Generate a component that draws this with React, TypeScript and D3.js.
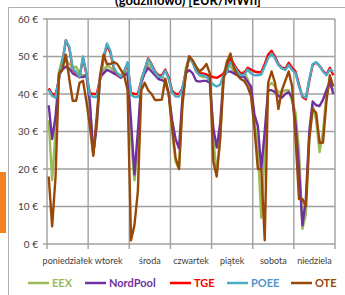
import React from 'react'
import * as d3 from 'd3'

// 7 days, 2-hour steps (12 points per day)
const days = ['poniedziałek', 'wtorek', 'środa', 'czwartek', 'piątek', 'sobota', 'niedziela']
const yTicks = [0, 10, 20, 30, 40, 50, 60]

const eex = [
  33, 17, 30, 46, 49.5, 49, 48, 47, 47.3, 45.5, 45, 45,
  37, 24, 31, 45, 46.5, 47.5, 47, 46, 45.5, 45, 45.5, 46,
  28, 17, 25, 44, 46.5, 48, 47, 46, 45, 44.5, 44, 40,
  30, 22, 20, 38, 47, 50, 48.5, 46, 45, 44.5, 44.5, 45,
  28, 19, 28, 45, 49, 47.5, 46, 45, 45.5, 46, 44, 41,
  33, 25, 7, 25, 42, 43, 42, 40.5, 40.5, 41, 41, 38,
  35, 25, 4, 8, 28, 37, 33, 24.5, 30, 40, 43, 41,
]

const nordPool = [
  37, 28, 34, 45, 46.5, 47.3, 46.8, 45.5, 45, 44.5, 44.5, 45,
  38, 24, 32, 44.5, 45.5, 46.5, 46, 45.5, 45, 44.3, 45, 45.5,
  33, 18.5, 30, 43, 45.5, 47, 46, 45, 44, 43.7, 43.3, 40,
  33, 28, 25.5, 39, 45.5, 46.4, 45.5, 43.5, 43.3, 43.5, 43.5, 43,
  31, 25.7, 32, 44.6, 46, 46, 45.5, 45, 44.6, 44.6, 43.3, 42,
  34.5, 31.5, 20, 30, 41, 41, 40.5, 39.5, 39, 40, 40.5, 39,
  32, 20, 5, 12, 30, 38, 37, 36.8, 38.5, 41, 43.3, 40,
]

const tge = [
  41.5, 40, 39.8, 44, 48.5, 54.3, 52.3, 46.6, 45.6, 44.5, 49.5, 45.3,
  40.2, 40, 40, 44, 49.5, 53, 51, 46.8, 45.3, 44.5, 45.8, 48,
  40.3, 40, 40, 43.5, 46.5, 49.5, 48, 46, 45, 45, 46.5, 44.5,
  40.8, 40, 40, 41.5, 46, 50, 48.5, 46.3, 45.5, 45.5, 45.2, 44.8,
  44.5, 44.3, 44.8, 45.5, 47, 49.5, 48, 46.5, 45.5, 45.5, 47, 46.5,
  46, 45.8, 45.8, 48, 50.5, 51.5, 50, 48, 47, 46.8, 48.3, 47,
  46, 42.5, 39.2, 38.6, 43.5, 47.8, 48.4, 47.5, 46.2, 45.2, 47, 45,
]

const poee = [
  41.1, 39.5, 39, 44.2, 48.6, 54.4, 52.6, 46.8, 45.8, 44.6, 50, 45.5,
  39.7, 39.2, 39.2, 44, 50, 53.5, 51.5, 47, 45.5, 44.6, 46, 48.5,
  39.8, 39.2, 39.2, 43.5, 46.5, 49.3, 47.8, 45.8, 44.6, 44.6, 46.2, 44,
  40.5, 39.3, 39.3, 41.5, 46, 49.7, 48.3, 46, 45, 45, 44.6, 43.5,
  42.5, 42, 42.5, 45, 46, 48.5, 47.5, 46, 45, 45, 46.5, 45.5,
  45, 45, 45.2, 47.3, 49.5, 50.8, 49.5, 47.7, 46.8, 46.4, 47.7, 46.4,
  45.5, 42, 39.5, 39, 44, 48, 48.5, 47.5, 46, 45, 46.5, 46,
]

const ote = [
  18, 4.7, 18, 45.5, 46.5, 50.5, 44, 38.2, 38.2, 43, 43.5, 38,
  31.5, 23.5, 34, 45, 50.5, 48, 48, 48.5, 48, 46.5, 45, 41,
  1, 5, 14, 41, 43, 41, 40, 38.4, 38.4, 38.5, 44, 40,
  31, 23, 20, 37, 45.5, 50, 49, 47.3, 46, 46.8, 48, 45.5,
  22, 18, 28, 44, 48.5, 50.8, 47, 45, 44, 43.5, 42, 39.5,
  31, 20, 20, 1, 43, 46, 43, 36, 41, 43.5, 46, 42,
  28, 12, 12, 10, 28, 36, 35, 27, 27, 38, 45, 42,
]

const series = [
  { name: 'EEX', color: '#9bbb59', text: '#9bbb59', values: eex },
  { name: 'NordPool', color: '#7030a0', text: '#7030a0', values: nordPool },
  { name: 'TGE', color: '#ff0000', text: '#ff0000', values: tge },
  { name: 'POEE', color: '#4bacc6', text: '#4f94c8', values: poee },
  { name: 'OTE', color: '#984807', text: '#984807', values: ote },
]

export default function App() {
  const W = 345
  const H = 295
  const left = 47
  const right = 335
  const top = 19
  const bottom = 244
  const font = "Lato, 'Open Sans', sans-serif"
  const grid = '#a0a0a0'

  const y = d3.scaleLinear().domain([0, 60]).range([bottom, top])
  const band = d3.scaleBand().domain(days).range([left, right])
  const n = eex.length
  const x = d3.scaleLinear().domain([0, n]).range([left, right])
  const line = d3.line<number>().x((_, i) => x(i + 0.5)).y(d => y(d))

  const bounds = d3.range(days.length + 1).map(i => left + i * band.step())
  const legendX = [28, 85, 170, 227, 291]

  return (
    <svg width={W} height={H} style={{ position: 'absolute', left: 0, top: 0, background: '#fff' }} fontFamily={font}>
      <rect x={0} y={172} width={6} height={61} fill="#f58220" />
      <path d={`M8.5,${H}V7.5H${W}`} fill="none" stroke="#b0b0b0" strokeWidth={1} />
      <text x={188} y={5} textAnchor="middle" fontWeight="bold" fontSize={13} fill="#000">(godzinowo) [EUR/MWh]</text>

      {yTicks.map(t => (
        <g key={t}>
          <line x1={left - 4} x2={right} y1={y(t)} y2={y(t)} stroke={grid} strokeWidth={1.4} />
          <text x={38} y={y(t)} dy="0.35em" textAnchor="end" fontSize={10} fill="#404040">{`${t} €`}</text>
        </g>
      ))}
      {bounds.map((b, i) => (
        <line key={i} x1={b} x2={b} y1={top} y2={bottom + 5} stroke={grid} strokeWidth={1.4} />
      ))}
      {days.map(d => (
        <text key={d} x={(band(d) ?? 0) + band.bandwidth() / 2} y={263.5} textAnchor="middle" fontSize={9} fill="#404040">{d}</text>
      ))}

      {series.map(s => (
        <path key={s.name} d={line(s.values) ?? ''} fill="none" stroke={s.color} strokeWidth={2.4} strokeLinejoin="round" />
      ))}

      {series.map((s, i) => (
        <g key={s.name} transform={`translate(${legendX[i]},283)`}>
          <line x1={0} x2={21} y1={0} y2={0} stroke={s.color} strokeWidth={2.5} />
          <text x={24} y={0} dy="0.35em" fontSize={11} fontWeight="bold" fill={s.text}>{s.name}</text>
        </g>
      ))}
    </svg>
  )
}
